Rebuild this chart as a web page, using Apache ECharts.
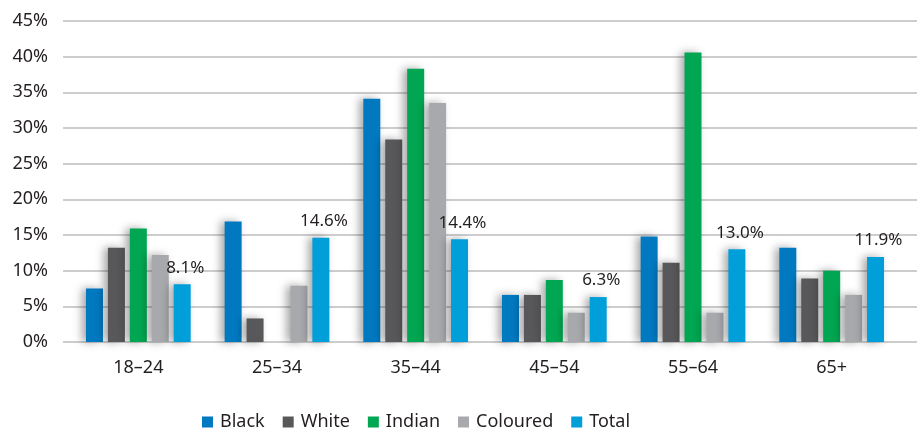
<!DOCTYPE html>
<html>
<head>
<meta charset="utf-8">
<script src="https://cdn.jsdelivr.net/npm/echarts@6/dist/echarts.min.js"></script>
<style>html,body{margin:0;padding:0;background:#fff}#c{width:917px;height:433px}</style>
</head>
<body>
<div id="c"></div>
<script>
const categories = ['18\u201324', '25\u201334', '35\u201344', '45\u201354', '55\u201364', '65+'];
const black    = [7.5, 16.9, 34.1, 6.6, 14.8, 13.2];
const white    = [13.2, 3.3, 28.4, 6.6, 11.1, 8.9];
const indian   = [15.9, 0, 38.3, 8.7, 40.6, 10.0];
const coloured = [12.2, 7.9, 33.5, 4.1, 4.1, 6.6];
const total    = [8.1, 14.6, 14.4, 6.3, 13.0, 11.9];
const seriesNames = ['Black', 'White', 'Indian', 'Coloured', 'Total'];
const yTicks = [0, 5, 10, 15, 20, 25, 30, 35, 40, 45];

const colors = ['#0079c1', '#58585a', '#00a651', '#a7a9ac', '#009fda'];
const font = 'Noto Sans';
const txt = '#231f20';
const shadow = {shadowColor: 'rgba(0,0,0,0.35)', shadowBlur: 9, shadowOffsetX: -4, shadowOffsetY: 0};

const chart = echarts.init(document.getElementById('c'), null, {renderer: 'canvas'});
const datasets = [black, white, indian, coloured, total];
const series = datasets.map((d, i) => ({
  name: seriesNames[i],
  type: 'bar',
  xAxisIndex: 1,
  yAxisIndex: 1,
  data: d,
  barWidth: 17,
  barGap: '29%',
  itemStyle: Object.assign({color: colors[i]}, shadow),
  label: i === 4 ? {
    show: true, position: 'top', distance: 8, offset: [3, 0],
    fontFamily: font, fontSize: 17, color: txt,
    formatter: p => p.value.toFixed(1) + '%'
  } : {show: false}
}));

chart.setOption({
  animation: false,
  color: colors,
  grid: [
    {left: 63, right: 0, top: 21, bottom: 91},
    {left: 69, right: 16, top: 21, bottom: 91}
  ],
  xAxis: [
    {gridIndex: 0, type: 'category', data: categories, show: false},
    {gridIndex: 1, type: 'category', data: categories,
     axisLine: {show: false}, axisTick: {show: false},
     axisLabel: {fontFamily: font, fontSize: 18, color: txt, margin: 17}}
  ],
  yAxis: [
    {gridIndex: 0, type: 'value', min: yTicks[0], max: yTicks[yTicks.length - 1], interval: 5,
     axisLine: {show: false}, axisTick: {show: false},
     axisLabel: {fontFamily: font, fontSize: 18, color: txt, margin: 15, formatter: '{value}%'},
     splitLine: {lineStyle: {color: '#bdbdbd', width: 1.5}}},
    {gridIndex: 1, type: 'value', min: yTicks[0], max: yTicks[yTicks.length - 1], interval: 5, show: false}
  ],
  legend: {
    data: seriesNames,
    left: 197, top: 408,
    itemWidth: 11, itemHeight: 11, itemGap: 18,
    icon: 'rect',
    itemStyle: {shadowBlur: 0, shadowOffsetX: 0},
    textStyle: {fontFamily: font, fontSize: 18, color: txt, padding: [0, 0, 0, 2]}
  },
  series: series
});
</script>
</body>
</html>
